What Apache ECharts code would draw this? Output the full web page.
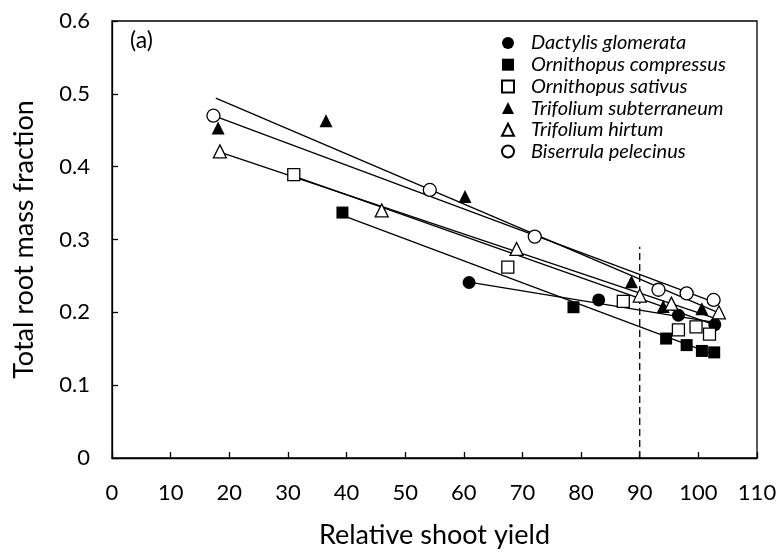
<!DOCTYPE html>
<html>
<head>
<meta charset="utf-8">
<script src="https://cdn.jsdelivr.net/npm/echarts@6/dist/echarts.min.js"></script>
<style>
html,body{margin:0;padding:0;background:#fff;}
#chart{width:782px;height:558px;}
</style>
</head>
<body>
<div id="chart"></div>
<script>
const speciesNames = ['Dactylis glomerata', 'Ornithopus compressus', 'Ornithopus sativus', 'Trifolium subterraneum', 'Trifolium hirtum', 'Biserrula pelecinus'];
const xTicks = [0, 10, 20, 30, 40, 50, 60, 70, 80, 90, 100, 110];
const yTicks = [0, 0.1, 0.2, 0.3, 0.4, 0.5, 0.6];

const dactylisX = [60.9, 83.0, 96.6, 102.8];
const dactylisY = [0.241, 0.217, 0.196, 0.183];
const compressusX = [39.3, 78.7, 94.5, 98.0, 100.6, 102.7];
const compressusY = [0.337, 0.207, 0.164, 0.155, 0.147, 0.145];
const sativusX = [31.0, 67.5, 87.2, 96.6, 99.6, 101.9];
const sativusY = [0.389, 0.262, 0.215, 0.176, 0.180, 0.170];
const subterraneumX = [18.1, 36.5, 60.2, 88.6, 94.0, 100.6];
const subterraneumY = [0.453, 0.463, 0.359, 0.242, 0.208, 0.205];
const hirtumX = [18.4, 46.0, 69.0, 90.0, 95.4, 103.5];
const hirtumY = [0.421, 0.340, 0.287, 0.223, 0.212, 0.200];
const biserrulaX = [17.3, 54.2, 72.1, 93.2, 98.0, 102.6];
const biserrulaY = [0.470, 0.368, 0.304, 0.231, 0.226, 0.217];

// fitted line end points [xStart, xEnd], [yStart, yEnd]
const dactylisFitX = [60.9, 103.0];
const dactylisFitY = [0.2415, 0.186];
const compressusFitX = [39.3, 102.7];
const compressusFitY = [0.333, 0.142];
const sativusFitX = [31.0, 103.0];
const sativusFitY = [0.387, 0.182];
const subterraneumFitX = [17.7, 103.0];
const subterraneumFitY = [0.494, 0.201];
const hirtumFitX = [18.4, 103.5];
const hirtumFitY = [0.420, 0.190];
const biserrulaFitX = [17.3, 103.0];
const biserrulaFitY = [0.470, 0.213];

const thresholdX = [90, 90];
const thresholdY = [0, 0.29];

const FONT = "Lato, 'Open Sans', sans-serif";

function pairs(xs, ys) { return xs.map((x, i) => [x, ys[i]]); }

const styles = [
  { symbol: 'circle', size: 13, fill: '#000' },
  { symbol: 'rect', size: 12, fill: '#000' },
  { symbol: 'rect', size: 12, fill: '#fff' },
  { symbol: 'triangle', size: 13, fill: '#000' },
  { symbol: 'triangle', size: 13, fill: '#fff' },
  { symbol: 'circle', size: 13, fill: '#fff' }
];
const pointSets = [
  [dactylisX, dactylisY], [compressusX, compressusY], [sativusX, sativusY],
  [subterraneumX, subterraneumY], [hirtumX, hirtumY], [biserrulaX, biserrulaY]
];
const fitSets = [
  [dactylisFitX, dactylisFitY], [compressusFitX, compressusFitY], [sativusFitX, sativusFitY],
  [subterraneumFitX, subterraneumFitY], [hirtumFitX, hirtumFitY], [biserrulaFitX, biserrulaFitY]
];

const series = [];
fitSets.forEach((f, i) => {
  series.push({
    name: 'fit ' + speciesNames[i],
    type: 'line',
    data: pairs(f[0], f[1]),
    symbol: 'none',
    silent: true,
    lineStyle: { color: '#000', width: 1.3 },
    z: 2
  });
});
series.push({
  name: 'threshold',
  type: 'line',
  data: pairs(thresholdX, thresholdY),
  symbol: 'none',
  silent: true,
  lineStyle: { color: '#000', width: 1.3, type: [7, 4] },
  z: 2
});
pointSets.forEach((p, i) => {
  const s = styles[i];
  series.push({
    name: speciesNames[i],
    type: 'scatter',
    data: pairs(p[0], p[1]),
    symbol: s.symbol,
    symbolSize: s.size,
    itemStyle: { color: s.fill, borderColor: '#000', borderWidth: s.fill === '#fff' ? 1.3 : 0, opacity: 1 },
    z: 3 + i
  });
});

const chart = echarts.init(document.getElementById('chart'), null, { renderer: 'canvas' });
chart.setOption({
  animation: false,
  backgroundColor: '#fff',
  textStyle: { fontFamily: FONT },
  grid: { left: 112, right: 25, top: 21, bottom: 100, show: true, borderColor: '#000', borderWidth: 1.3, backgroundColor: 'transparent' },
  legend: {
    data: speciesNames,
    orient: 'vertical',
    left: 496,
    top: 28,
    itemWidth: 12,
    itemHeight: 12,
    itemGap: 1.7,
    selectedMode: false,
    textStyle: { fontFamily: FONT, fontStyle: 'italic', fontSize: 20, color: '#000', lineHeight: 12, padding: [0, 0, 0, 12] }
  },
  graphic: [{
    type: 'text', left: 130, top: 29,
    style: { text: '(a)', font: "23px " + FONT, fill: '#000' }
  }],
  xAxis: {
    type: 'value',
    min: xTicks[0], max: xTicks[xTicks.length - 1], interval: xTicks[1] - xTicks[0],
    name: 'Relative shoot yield', nameLocation: 'middle', nameGap: 64,
    nameTextStyle: { fontSize: 27, color: '#000', fontFamily: FONT },
    axisLine: { lineStyle: { color: '#000', width: 1.3 } },
    axisTick: { inside: true, length: 6, lineStyle: { color: '#000', width: 1.3 } },
    axisLabel: { fontSize: 22, color: '#000', margin: 24, fontFamily: FONT },
    splitLine: { show: false }
  },
  yAxis: {
    type: 'value',
    min: yTicks[0], max: yTicks[yTicks.length - 1], interval: 0.1,
    name: 'Total root mass fraction', nameLocation: 'middle', nameGap: 74, nameRotate: 90,
    nameTextStyle: { fontSize: 27, color: '#000', fontFamily: FONT },
    axisLine: { show: true, lineStyle: { color: '#000', width: 1.3 } },
    axisTick: { show: true, inside: true, length: 6, lineStyle: { color: '#000', width: 1.3 } },
    axisLabel: { fontSize: 22, color: '#000', margin: 22, fontFamily: FONT,
      formatter: v => (Math.round(v * 10) / 10).toString() },
    splitLine: { show: false }
  },
  series: series
});
</script>
</body>
</html>
